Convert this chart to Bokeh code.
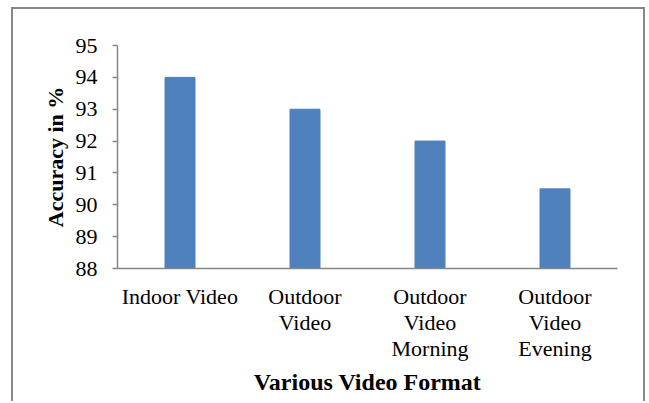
from bokeh.plotting import figure
from bokeh.models import Range1d, FactorRange, ColumnDataSource, FixedTicker
from bokeh.embed import file_html
from bokeh.resources import INLINE

categories = ["Indoor Video", "Outdoor\nVideo", "Outdoor\nVideo\nMorning", "Outdoor\nVideo\nEvening"]
accuracy = [94, 93, 92, 90.5]
y_ticks = [88, 89, 90, 91, 92, 93, 94, 95]

src = ColumnDataSource(dict(cat=categories, val=accuracy))

p = figure(width=634, height=394, output_backend="svg", toolbar_location=None,
           x_range=FactorRange(factors=categories, range_padding=0),
           y_range=Range1d(88, 95))
p.min_border_left = 104
p.min_border_right = 30
p.min_border_top = 36
p.min_border_bottom = 135
p.outline_line_color = None
p.background_fill_color = "white"
p.border_fill_color = "white"
p.styles = {"margin-left": "11px", "margin-top": "7px",
            "border-left": "2px solid #888888", "border-top": "2px solid #888888",
            "border-right": "2px solid #888888"}

p.vbar(x="cat", top="val", bottom=88, width=0.24, source=src,
       fill_color="#4F81BD", line_color="#4F81BD", line_width=1)

p.xgrid.grid_line_color = None
p.ygrid.grid_line_color = None

font = "Liberation Serif"
p.yaxis.ticker = FixedTicker(ticks=y_ticks)
p.yaxis.minor_tick_line_color = None
p.yaxis.major_tick_in = 0
p.yaxis.major_tick_out = 5
p.yaxis.major_label_text_font = font
p.yaxis.major_label_text_font_size = "22px"
p.yaxis.major_label_text_color = "black"
p.yaxis.major_label_standoff = 15
p.yaxis.axis_label = "Accuracy in %"
p.yaxis.axis_label_text_font = font
p.yaxis.axis_label_text_font_style = "bold"
p.yaxis.axis_label_text_font_size = "22px"
p.yaxis.axis_label_text_color = "black"
p.yaxis.axis_label_standoff = 5

p.xaxis.major_tick_line_color = None
p.xaxis.major_label_text_font = font
p.xaxis.major_label_text_font_size = "22px"
p.xaxis.major_label_text_line_height = 1.04
p.xaxis.major_label_text_color = "black"
p.xaxis.major_label_standoff = 9
p.xaxis.axis_label = "Various Video Format"
p.xaxis.axis_label_text_font = font
p.xaxis.axis_label_text_font_style = "bold"
p.xaxis.axis_label_text_font_size = "24px"
p.xaxis.axis_label_text_color = "black"
p.xaxis.axis_label_standoff = 5

for ax in (p.xaxis, p.yaxis):
    ax.axis_line_color = "#868686"
    ax.axis_line_width = 1.5
    ax.major_tick_line_width = 1.5
p.yaxis.major_tick_line_color = "#868686"

open("out.html", "w").write(file_html(p, INLINE))
